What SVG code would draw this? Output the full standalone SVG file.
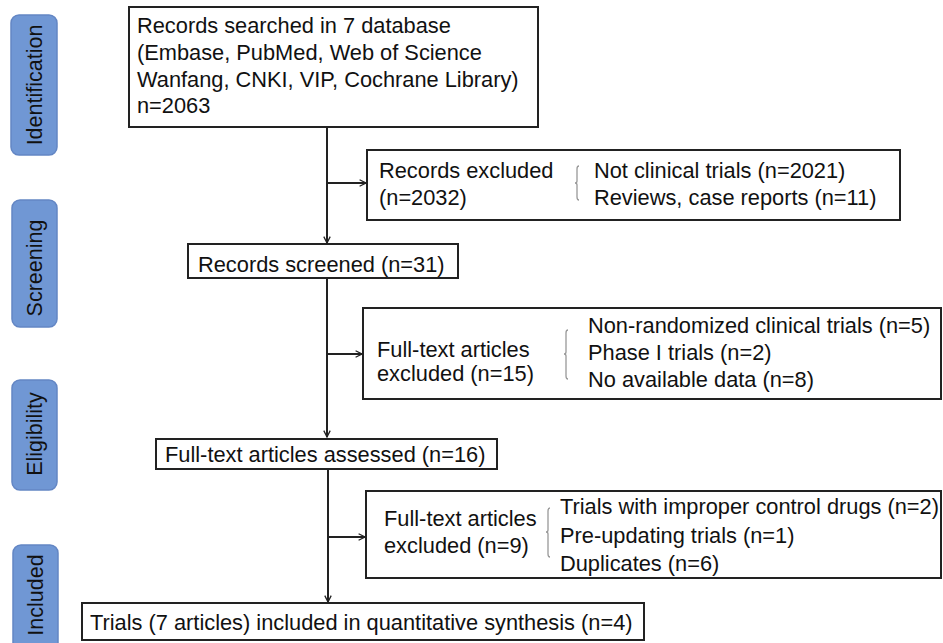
<svg xmlns="http://www.w3.org/2000/svg" width="943" height="643" viewBox="0 0 943 643">
<defs>
<style>
.box{fill:#fff;stroke:#222;stroke-width:2}
.stage{fill:#7097d4;stroke:#6386c4;stroke-width:1.5}
.t{font-family:"Liberation Sans",Arial,sans-serif;font-size:21.8px;fill:#111}
.st{font-family:"Liberation Sans",Arial,sans-serif;font-size:21.5px;fill:#111}
.ln{stroke:#222;stroke-width:2;fill:none}
.br{stroke:#999;stroke-width:1.3;fill:none}
</style>
<marker id="ah" viewBox="0 0 10 10" refX="9" refY="5" markerWidth="8" markerHeight="8" orient="auto" markerUnits="userSpaceOnUse">
<path d="M1,1 L9,5 L1,9" fill="none" stroke="#222" stroke-width="1.6"/>
</marker>
</defs>
<rect width="943" height="643" fill="#fff"/>
<g id="stage-identification">
<rect class="stage" x="11" y="15" width="46" height="140" rx="8"/>
<text class="st" transform="translate(42,85) rotate(-90)" text-anchor="middle">Identification</text>
</g>
<g id="stage-screening">
<rect class="stage" x="12" y="200" width="45" height="127" rx="8"/>
<text class="st" transform="translate(42,268) rotate(-90)" text-anchor="middle">Screening</text>
</g>
<g id="stage-eligibility">
<rect class="stage" x="12" y="380" width="45" height="110" rx="8"/>
<text class="st" transform="translate(42,434) rotate(-90)" text-anchor="middle">Eligibility</text>
</g>
<g id="stage-included">
<rect class="stage" x="13" y="545" width="45" height="110" rx="8"/>
<text class="st" transform="translate(43,595) rotate(-90)" text-anchor="middle">Included</text>
</g>
<g id="connectors">
<line class="ln" x1="327" y1="127" x2="327" y2="243" marker-end="url(#ah)"/>
<line class="ln" x1="327" y1="183" x2="366" y2="183" marker-end="url(#ah)"/>
<line class="ln" x1="327" y1="278" x2="327" y2="437" marker-end="url(#ah)"/>
<line class="ln" x1="327" y1="354" x2="362" y2="354" marker-end="url(#ah)"/>
<line class="ln" x1="328" y1="469" x2="328" y2="602" marker-end="url(#ah)"/>
<line class="ln" x1="328" y1="537" x2="365" y2="537" marker-end="url(#ah)"/>
</g>
<g id="records-searched">
<rect class="box" x="129" y="7" width="409" height="120"/>
<text class="t" x="137" y="33">Records searched in 7 database</text>
<text class="t" x="137" y="60">(Embase, PubMed, Web of Science</text>
<text class="t" x="137" y="87">Wanfang, CNKI, VIP, Cochrane Library)</text>
<text class="t" x="137" y="113">n=2063</text>
</g>
<g id="records-excluded">
<rect class="box" x="367" y="150" width="533" height="70"/>
<text class="t" x="379" y="178">Records excluded</text>
<text class="t" x="379" y="205">(n=2032)</text>
<path class="br" d="M579,166 Q577,166 577,169 L577,181 Q577,183 575,183 Q577,183 577,185 L577,197 Q577,200 579,200"/>
<text class="t" x="594" y="178">Not clinical trials (n=2021)</text>
<text class="t" x="594" y="205">Reviews, case reports (n=11)</text>
</g>
<g id="records-screened">
<rect class="box" x="188" y="244" width="270" height="34"/>
<text class="t" x="198" y="272">Records screened (n=31)</text>
</g>
<g id="fulltext-excluded-15">
<rect class="box" x="363" y="308" width="578" height="91"/>
<text class="t" x="377" y="357">Full-text articles</text>
<text class="t" x="377" y="381">excluded (n=15)</text>
<path class="br" d="M568,330 Q566,330 566,333 L566,352 Q566,354 564,354 Q566,354 566,356 L566,376 Q566,379 568,379"/>
<text class="t" x="588" y="333">Non-randomized clinical trials (n=5)</text>
<text class="t" x="588" y="360">Phase I trials (n=2)</text>
<text class="t" x="588" y="387">No available data (n=8)</text>
</g>
<g id="fulltext-assessed">
<rect class="box" x="156" y="439" width="341" height="30"/>
<text class="t" x="165" y="462">Full-text articles assessed (n=16)</text>
</g>
<g id="fulltext-excluded-9">
<rect class="box" x="366" y="491" width="575" height="87"/>
<text class="t" x="384" y="526">Full-text articles</text>
<text class="t" x="384" y="553">excluded (n=9)</text>
<path class="br" d="M550,508 Q548,508 548,511 L548,530 Q548,532 546,532 Q548,532 548,534 L548,554 Q548,557 550,557"/>
<text class="t" x="560" y="514">Trials with improper control drugs (n=2)</text>
<text class="t" x="560" y="543">Pre-updating trials (n=1)</text>
<text class="t" x="560" y="571">Duplicates (n=6)</text>
</g>
<g id="included">
<rect class="box" x="82" y="603" width="562" height="37"/>
<text class="t" x="90" y="630">Trials (7 articles) included in quantitative synthesis (n=4)</text>
</g>
</svg>
